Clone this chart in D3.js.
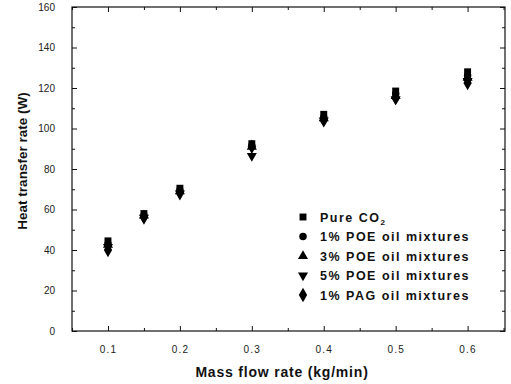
<!DOCTYPE html>
<html><head><meta charset="utf-8">
<script src="https://cdn.jsdelivr.net/npm/d3@7"></script>
<style>body{margin:0;background:#fff}svg{display:block}</style>
</head><body>
<svg id="c" width="511" height="384"></svg>
<script>
const massFlow = [0.1, 0.15, 0.2, 0.3, 0.4, 0.5, 0.6];
const pureCO2 = [44.5, 58, 70.5, 92.5, 107, 118.5, 128];
const poe1 = [43, 57, 69.5, 91.5, 105.5, 117, 126];
const poe3 = [42.5, 57, 69, 91, 105, 116, 125];
const poe5 = [41.5, 56, 68, 86.5, 104, 114.5, 123.5];
const pag1 = [40, 56, 68, 91, 104, 115, 122.5];
const seriesNames = ["Pure CO\u2082", "1% POE oil mixtures", "3% POE oil mixtures", "5% POE oil mixtures", "1% PAG oil mixtures"];
const xTicks = [0.1, 0.2, 0.3, 0.4, 0.5, 0.6];
const yTicks = [0, 20, 40, 60, 80, 100, 120, 140, 160];

const series = [pureCO2, poe1, poe3, poe5, pag1];
const symbols = [d3.symbolSquare, d3.symbolCircle, d3.symbolTriangle, d3.symbolTriangle, d3.symbolDiamond];
const sizes = [48, 44, 44, 44, 60];
const rotations = [0, 0, 0, 180, 0];

const svg = d3.select("#c");
const L = 72, R = 505, T = 7, B = 331;
const x = d3.scaleLinear().domain([0.05, 0.652]).range([L, R]);
const y = d3.scaleLinear().domain([0, 160]).range([B, T]);
const font = "'Liberation Sans', Arial, sans-serif";

// frame
svg.append("rect").attr("x", L).attr("y", T).attr("width", R - L).attr("height", B - T)
  .attr("fill", "none").attr("stroke", "#111").attr("stroke-width", 1.2);

const xMinor = d3.range(0.05, 0.651, 0.05).map(v => +v.toFixed(2)).filter(v => xTicks.indexOf(v) < 0);
const yMinor = d3.range(10, 160, 20);

// bottom axis
const bx = svg.append("g").attr("transform", `translate(0,${B})`)
  .call(d3.axisBottom(x).tickValues(xTicks).tickSizeInner(-5).tickSizeOuter(0).tickPadding(15).tickFormat(d3.format(".1f")));
bx.select(".domain").remove();
bx.selectAll("text").attr("font-family", font).attr("font-size", 10).attr("letter-spacing", 1.2).attr("fill", "#222");
svg.append("g").attr("transform", `translate(0,${B})`)
  .call(d3.axisBottom(x).tickValues(xMinor).tickSizeInner(-3).tickSizeOuter(0).tickFormat(""))
  .select(".domain").remove();
// top axis
const tx = svg.append("g").attr("transform", `translate(0,${T})`)
  .call(d3.axisTop(x).tickValues(xTicks).tickSizeInner(-5).tickSizeOuter(0).tickFormat(""));
tx.select(".domain").remove();
svg.append("g").attr("transform", `translate(0,${T})`)
  .call(d3.axisTop(x).tickValues(xMinor).tickSizeInner(-3).tickSizeOuter(0).tickFormat(""))
  .select(".domain").remove();
// left axis
const ly = svg.append("g").attr("transform", `translate(${L},0)`)
  .call(d3.axisLeft(y).tickValues(yTicks).tickSizeInner(-5).tickSizeOuter(0).tickPadding(17));
ly.select(".domain").remove();
ly.selectAll("text").attr("font-family", font).attr("font-size", 10).attr("fill", "#222");
svg.append("g").attr("transform", `translate(${L},0)`)
  .call(d3.axisLeft(y).tickValues(yMinor).tickSizeInner(-3).tickSizeOuter(0).tickFormat(""))
  .select(".domain").remove();
// right axis
const ry = svg.append("g").attr("transform", `translate(${R},0)`)
  .call(d3.axisRight(y).tickValues(yTicks).tickSizeInner(-5).tickSizeOuter(0).tickFormat(""));
ry.select(".domain").remove();
svg.append("g").attr("transform", `translate(${R},0)`)
  .call(d3.axisRight(y).tickValues(yMinor).tickSizeInner(-3).tickSizeOuter(0).tickFormat(""))
  .select(".domain").remove();
svg.selectAll(".tick line").attr("stroke", "#111");

// axis titles
svg.append("text").attr("x", 282).attr("y", 377).attr("text-anchor", "middle")
  .attr("font-family", font).attr("font-weight", "bold").attr("font-size", 14).attr("letter-spacing", 0.8).attr("fill", "#111")
  .text("Mass flow rate (kg/min)");
svg.append("text").attr("transform", `translate(27,161) rotate(-90)`).attr("text-anchor", "middle")
  .attr("font-family", font).attr("font-weight", "bold").attr("font-size", 13.5).attr("fill", "#111")
  .text("Heat transfer rate (W)");

// data points
series.forEach((vals, si) => {
  const sym = d3.symbol().type(symbols[si]).size(sizes[si]);
  svg.append("g").selectAll("path").data(vals).join("path")
    .attr("d", sym)
    .attr("transform", (d, i) => `translate(${x(massFlow[i])},${y(d)}) rotate(${rotations[si]})`)
    .attr("fill", "#000");
});

// legend
const lg = svg.append("g");
seriesNames.forEach((name, i) => {
  const cy = 217 + i * 19.5;
  lg.append("path").attr("d", d3.symbol().type(symbols[i]).size(sizes[i])())
    .attr("transform", `translate(303,${cy}) rotate(${rotations[i]})`).attr("fill", "#000");
  const t = lg.append("text").attr("x", 320).attr("y", cy + 4.5)
    .attr("font-family", font).attr("font-weight", "bold").attr("font-size", 12.5)
    .attr("letter-spacing", 1.5).attr("fill", "#111");
  if (i === 0) {
    t.append("tspan").text("Pure CO");
    t.append("tspan").attr("font-size", 8).attr("dy", 3).text("2");
  } else t.text(name);
});
</script>
</body></html>
